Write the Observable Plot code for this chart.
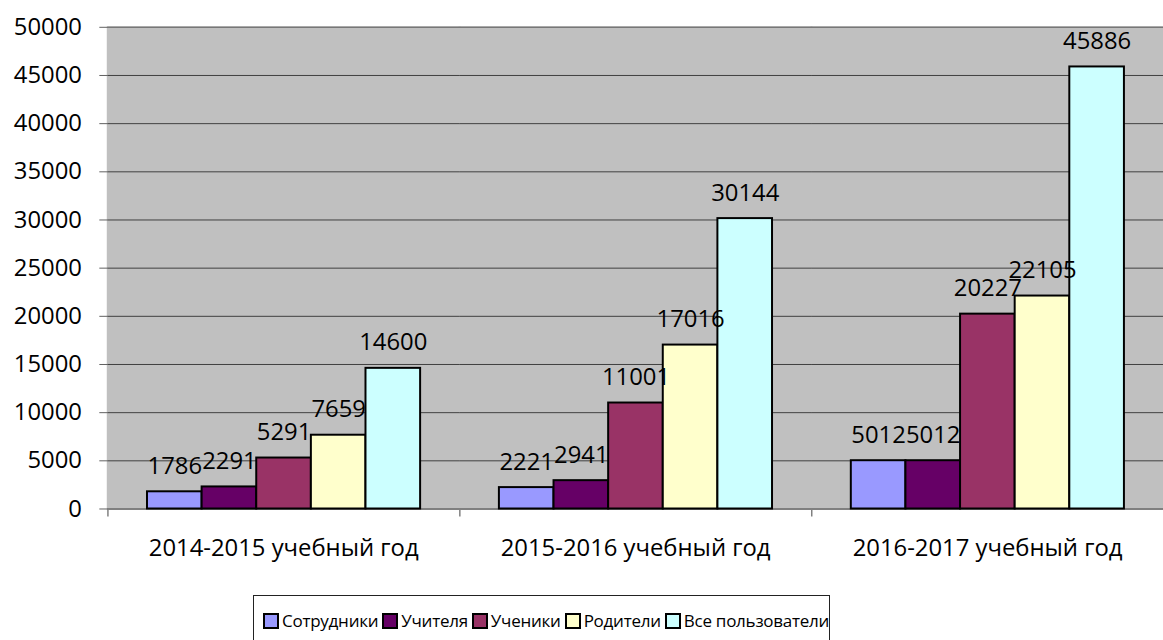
<!DOCTYPE html>
<html>
<head>
<meta charset="utf-8">
<script src="https://cdn.jsdelivr.net/npm/d3@7"></script>
<script src="https://cdn.jsdelivr.net/npm/@observablehq/plot@0.6"></script>
<style>
  html, body { margin: 0; padding: 0; background: #fff; overflow: hidden; }
  #wrap { position: relative; width: 1163px; height: 640px; overflow: hidden; }
  #legend {
    position: absolute; left: 253px; top: 595px; width: 577px; height: 60px;
    box-sizing: border-box; border: 1px solid #222; background: #fff;
    font-family: "Open Sans", sans-serif; font-size: 17px; letter-spacing: -0.25px; color: #000;
    display: flex; align-items: flex-start; padding: 13px 0 0 9px; white-space: nowrap;
  }
  .item { display: flex; align-items: center; margin-right: 4px; line-height: 24px; }
  .sw { width: 12px; height: 12px; border: 2px solid #000; margin-right: 3px; }
</style>
</head>
<body>
<div id="wrap"><div id="chart"></div><div id="legend"></div></div>
<script>
const years = ["2014-2015 учебный год", "2015-2016 учебный год", "2016-2017 учебный год"];
const series = ["Сотрудники", "Учителя", "Ученики", "Родители", "Все пользователи"];
const staff = [1786, 2221, 5012];
const teachers = [2291, 2941, 5012];
const students = [5291, 11001, 20227];
const parents = [7659, 17016, 22105];
const allUsers = [14600, 30144, 45886];
const colors = ["#9999FF", "#660066", "#993366", "#FFFFCC", "#CCFFFF"];
const yTicks = [0, 5000, 10000, 15000, 20000, 25000, 30000, 35000, 40000, 45000, 50000];

const seriesValues = [staff, teachers, students, parents, allUsers];
const data = [];
years.forEach((yr, i) => {
  series.forEach((s, j) => data.push({year: yr, series: s, value: seriesValues[j][i]}));
});

const chart = Plot.plot({
  width: 1171,
  height: 580,
  marginLeft: 108,
  marginRight: 0,
  marginTop: 27,
  marginBottom: 68,
  style: {fontFamily: "Open Sans, sans-serif", fontSize: "24px", color: "#000", background: "transparent"},
  fx: {domain: years, padding: 0, label: null, round: false},
  x: {domain: series, paddingInner: 0, paddingOuter: 0.72, axis: null},
  y: {domain: [0, 50000], label: null},
  color: {domain: series, range: colors},
  marks: [
    Plot.frame({fill: "#C0C0C0", stroke: "#C0C0C0", strokeWidth: 2}),
    Plot.gridY(yTicks, {stroke: "#404040", strokeOpacity: 1, strokeWidth: 1}),
    Plot.ruleY([50000], {stroke: "#808080", strokeWidth: 1}),
    Plot.ruleY([0], {stroke: "#808080", strokeWidth: 1.5}),
    Plot.barY(data, {fx: "year", x: "series", y: "value", fill: "series", stroke: "#000", strokeWidth: 2}),
    Plot.text(data, {fx: "year", x: "series", y: "value", text: d => String(d.value), lineAnchor: "bottom", dy: -18, fill: "#000"}),
    Plot.axisFx({anchor: "bottom", tickSize: 8, tickFormat: () => "", dx: -177, stroke: "#808080", strokeWidth: 1.5, label: null}),
    Plot.axisY(yTicks, {tickSize: 8, tickPadding: 18, line: true, stroke: "#606060", fill: "#000", tickFormat: d => String(d), label: null}),
    Plot.axisFx({anchor: "bottom", tickSize: 0, tickPadding: 30, label: null, fill: "#000"})
  ]
});
document.getElementById("chart").appendChild(chart);

const legend = document.getElementById("legend");
series.forEach((s, i) => {
  const item = document.createElement("div");
  item.className = "item";
  const sw = document.createElement("span");
  sw.className = "sw";
  sw.style.background = colors[i];
  const t = document.createElement("span");
  t.textContent = s;
  item.appendChild(sw);
  item.appendChild(t);
  legend.appendChild(item);
});
</script>
</body>
</html>
